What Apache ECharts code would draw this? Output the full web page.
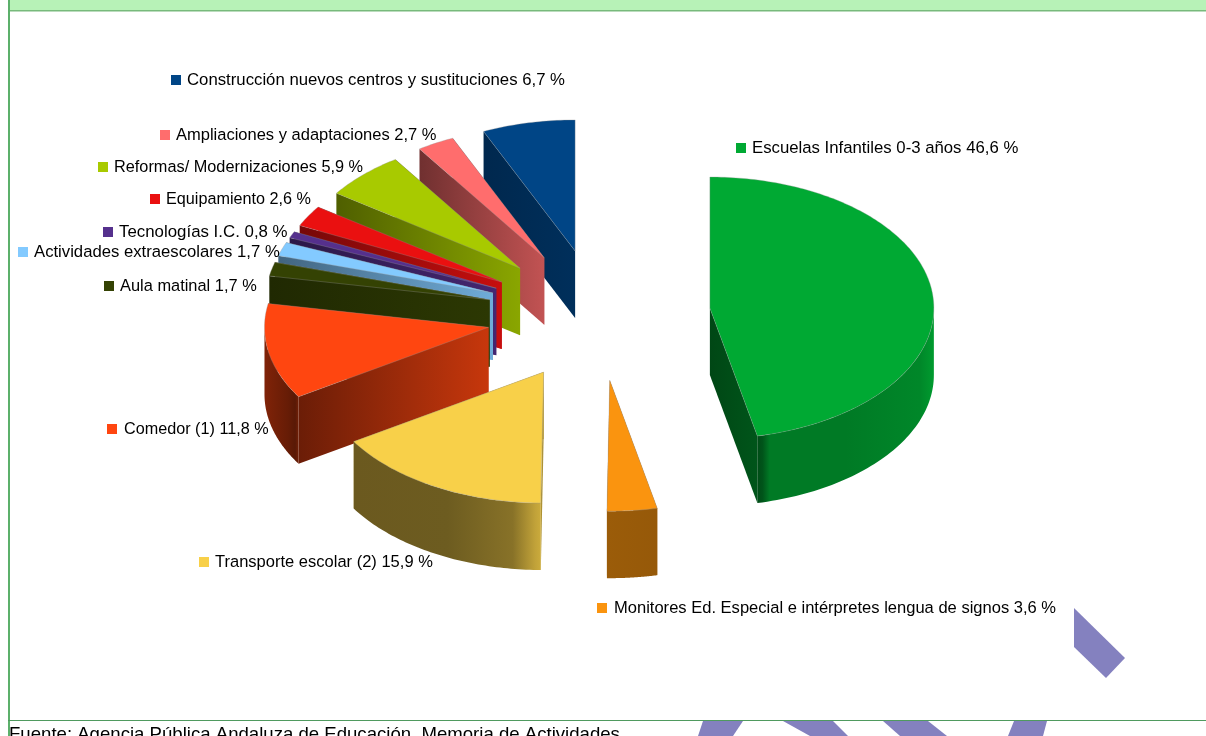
<!DOCTYPE html>
<html>
<head>
<meta charset="utf-8">
<title>Inversión por programas</title>
<script src="https://cdn.jsdelivr.net/npm/echarts@6/dist/echarts.min.js"></script>
<style>
  html, body { margin: 0; padding: 0; background: #fff; overflow: hidden; }
  #chart { width: 1206px; height: 736px; }
</style>
</head>
<body>
<div id="chart"></div>
<script>
// datos
const categories = ['Escuelas Infantiles 0-3 años', 'Monitores Ed. Especial e intérpretes lengua de signos', 'Transporte escolar (2)', 'Comedor (1)', 'Aula matinal', 'Actividades extraescolares', 'Tecnologías I.C.', 'Equipamiento', 'Reformas/ Modernizaciones', 'Ampliaciones y adaptaciones', 'Construcción nuevos centros y sustituciones'];
const values = [46.6, 3.6, 15.9, 11.8, 1.7, 1.7, 0.8, 2.6, 5.9, 2.7, 6.7];
const source = 'Fuente: Agencia Pública Andaluza de Educación. Memoria de Actividades';

// colores y sombreado (factor sobre el color de la cara superior)
const colors = ['#00a933', '#fa940f', '#f8d049', '#ff4610', '#344203', '#83caff', '#55308d', '#ea1010', '#a8ca00', '#ff6d6d', '#004586'];
const sideShade = [[0.42, 0.5], [0.6, 0.65], [0.7, 0.7], [0.42, 0.78], [0.62, 0.85], [0.5, 0.85], [0.5, 0.8], [0.5, 0.85], [0.47, 0.82], [0.44, 0.76], [0.58, 0.68]];
const outerShade = [
  [[0, 0.45], [0.03, 0.5], [0.07, 0.72], [0.5, 0.72], [0.92, 0.8], [1, 0.92]],
  [[0, 0.62], [1, 0.6]],
  [[0, 0.43], [0.5, 0.44], [0.85, 0.55], [0.97, 0.78], [1, 0.82]],
  [[0, 0.5], [0.7, 0.4], [0.9, 0.35], [1, 0.45]],
  [[0, 0.6], [1, 0.6]], [[0, 0.5], [1, 0.5]], [[0, 0.5], [1, 0.5]], [[0, 0.5], [1, 0.5]],
  [[0, 0.5], [1, 0.5]], [[0, 0.5], [1, 0.5]], [[0, 0.5], [1, 0.5]]
];
// posicion de cada leyenda: [x cuadro, y centro, x texto, escala horizontal]
const labelAt = [[736, 148, 752, 1], [597, 608, 614, 0.987], [199, 562, 215, 0.986], [107, 429, 124, 0.967], [104, 286, 120, 0.979], [18, 252, 34, 0.996], [103, 232, 119, 1.006], [150, 199, 166, 0.967], [98, 167, 114, 0.973], [160, 135, 176, 0.985], [171, 80, 187, 1]];

// geometria del pastel
const cx = 598.5, cy = 315, rx = 224, ry = 131, depth = 67, explode = 0.5;

function shade(hex, f) {
  const n = parseInt(hex.slice(1), 16);
  const c = [n >> 16, (n >> 8) & 255, n & 255].map(v => Math.round(v * f));
  return 'rgb(' + c.join(',') + ')';
}

const total = values.reduce((a, b) => a + b, 0);
const slices = [];
let acc = 0;
values.forEach(v => {
  const t1 = acc / total * Math.PI * 2;
  acc += v;
  slices.push({ t1: t1, t2: acc / total * Math.PI * 2 });
});

function rim(ax, ay, t, dy) {
  return [ax + rx * Math.sin(t), ay - ry * Math.cos(t) + (dy || 0)];
}

function hGradient(x0, x1, stops, color) {
  return new echarts.graphic.LinearGradient(x0, 0, x1, 0, stops.map(s => ({ offset: s[0], color: shade(color, s[1]) })), true);
}

function renderSlice(params) {
  const i = params.dataIndex;
  const s = slices[i];
  const color = colors[i];
  const mid = (s.t1 + s.t2) / 2;
  const ax = cx + explode * rx * Math.sin(mid);
  const ay = cy - explode * ry * Math.cos(mid);
  const base = (values.length - i) * 10; // de atras hacia delante, el ultimo sector es el del fondo
  const children = [];

  // paredes radiales: primero la que queda oculta
  const walls = [s.t1, s.t2].sort((a, b) => rim(ax, ay, a)[1] - rim(ax, ay, b)[1]);
  walls.forEach((t, k) => {
    const p = rim(ax, ay, t);
    const x0 = Math.min(ax, p[0]), x1 = Math.max(ax, p[0]);
    children.push({
      type: 'polygon',
      z2: base + k,
      shape: { points: [[ax, ay], p, [p[0], p[1] + depth], [ax, ay + depth]] },
      style: { fill: hGradient(x0, x1 === x0 ? x0 + 1 : x1, [[0, sideShade[i][0]], [1, sideShade[i][1]]], color) }
    });
  });

  // pared exterior, solo la parte que mira al frente
  const a = Math.max(s.t1, Math.PI / 2), b = Math.min(s.t2, Math.PI * 1.5);
  if (b > a) {
    const up = [], down = [];
    for (let k = 0; k <= 60; k++) {
      const t = a + (b - a) * k / 60;
      up.push(rim(ax, ay, t));
      down.unshift(rim(ax, ay, t, depth));
    }
    const xs = up.map(p => p[0]);
    children.push({
      type: 'polygon',
      z2: base + 3,
      shape: { points: up.concat(down) },
      style: { fill: hGradient(Math.min.apply(null, xs), Math.max.apply(null, xs), outerShade[i], color) }
    });
  }

  // cara superior
  const top = [[ax, ay]];
  const n = Math.max(8, Math.ceil((s.t2 - s.t1) * 60));
  for (let k = 0; k <= n; k++) top.push(rim(ax, ay, s.t1 + (s.t2 - s.t1) * k / n));
  children.push({
    type: 'polygon',
    z2: base + 4,
    shape: { points: top },
    style: { fill: color, stroke: 'rgba(150,150,150,0.55)', lineWidth: 0.6 }
  });
  return { type: 'group', children: children };
}

function renderLabel(params) {
  const i = params.dataIndex;
  const p = labelAt[i];
  return {
    type: 'group',
    children: [
      { type: 'rect', shape: { x: p[0], y: p[1] - 5, width: 10, height: 10 }, style: { fill: colors[i] } },
      {
        type: 'text',
        x: p[2], y: p[1] + 0.5,
        scaleX: p[3],
        style: {
          text: categories[i] + ' ' + values[i].toFixed(1).replace('.', ',') + ' %',
          font: '16.75px "Liberation Sans"', fill: '#000', textVerticalAlign: 'middle', textAlign: 'left'
        }
      }
    ]
  };
}

const chart = echarts.init(document.getElementById('chart'), null, { renderer: 'canvas' });
const band = '#b7f2b7', frame = '#5cb06b', mark = '#8481bf';

chart.setOption({
  animation: false,
  backgroundColor: '#fff',
  graphic: [
    { type: 'polygon', z: 1, shape: { points: [[1074, 608], [1125, 658], [1106, 678], [1074, 647]] }, style: { fill: mark } },
    { type: 'polygon', z: 1, shape: { points: [[703, 721], [743, 721], [733, 736], [698, 736]] }, style: { fill: mark } },
    { type: 'polygon', z: 1, shape: { points: [[783, 721], [833, 721], [848, 736], [810, 736]] }, style: { fill: mark } },
    { type: 'polygon', z: 1, shape: { points: [[883, 721], [928, 721], [947, 736], [900, 736]] }, style: { fill: mark } },
    { type: 'polygon', z: 1, shape: { points: [[1014, 721], [1047, 721], [1043, 736], [1008, 736]] }, style: { fill: mark } },
    { type: 'rect', z: 2, shape: { x: 10, y: 0, width: 1196, height: 10 }, style: { fill: band } },
    { type: 'rect', z: 2, shape: { x: 10, y: 10, width: 1196, height: 1.5 }, style: { fill: '#78ba7c' } },
    { type: 'rect', z: 2, shape: { x: 8, y: 0, width: 2, height: 736 }, style: { fill: frame } },
    { type: 'rect', z: 2, shape: { x: 8, y: 720, width: 1198, height: 1 }, style: { fill: '#4f9a5f' } },
    { type: 'text', z: 3, x: 9, y: 725, style: { text: source, font: '18.6px "Liberation Sans"', fill: '#000' } }
  ],
  series: [
    {
      type: 'custom',
      name: 'sectores',
      coordinateSystem: 'none',
      silent: true,
      z: 5,
      renderItem: renderSlice,
      data: values.map((v, i) => ({ value: v, name: categories[i] })),
      progressive: 0
    },
    {
      type: 'custom',
      name: 'leyenda',
      coordinateSystem: 'none',
      silent: true,
      z: 6,
      renderItem: renderLabel,
      data: values.map((v, i) => ({ value: v, name: categories[i] })),
      progressive: 0
    }
  ]
});
</script>
</body>
</html>
